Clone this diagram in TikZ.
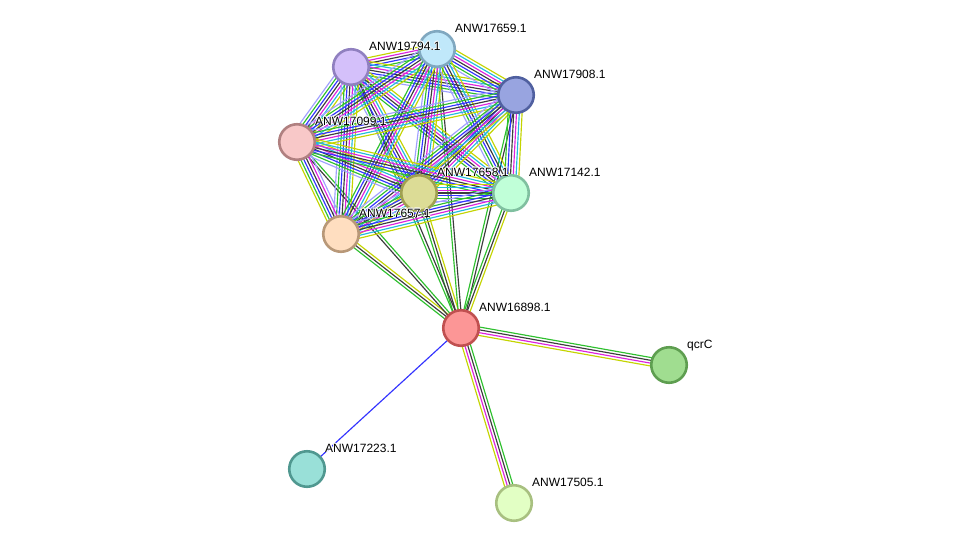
\documentclass[tikz,border=0pt]{standalone}
\usepackage{fontspec}
\setmainfont{Liberation Sans}
\usetikzlibrary{calc}
\pgfdeclarelayer{bg}
\pgfsetlayers{bg,main}

\definecolor{cgreen}{HTML}{2EC02E}
\definecolor{cblue}{HTML}{3333FF}
\definecolor{cblack}{HTML}{3C3C3C}
\definecolor{cmag}{HTML}{DD22DD}
\definecolor{ccyan}{HTML}{22BBDD}
\definecolor{cyel}{HTML}{C4D400}
\definecolor{clblue}{HTML}{A0A0FF}

\tikzset{
  prot/.style={circle, minimum size=35.5pt, inner sep=0pt, line width=2.6pt},
  lab/.style={anchor=base west, inner sep=0pt, font=\fontsize{12}{14}\selectfont, text=black},
  halo/.style={lab, text=white},
  link/.style={line width=1.15pt},
}
\newcommand\lsp{2.8}
% parallel strands of one interaction, one per evidence colour
\newcommand\sedge[3]{%
  \foreach \c [count=\i] in {#3} {\xdef\ncount{\i}}%
  \foreach \c [count=\i] in {#3} {%
    \pgfmathsetmacro\off{(\i-(\ncount+1)/2)*\lsp}%
    \draw[link, \c] ($(#1.center)!\off pt!90:(#2.center)$) -- ($(#2.center)!\off pt!-90:(#1.center)$);
  }%
}

\begin{document}
\begin{tikzpicture}[x=1pt, y=-1pt]
\useasboundingbox (0,0) rectangle (976,549);

% proteins
\node[prot, fill={rgb,255:red,252;green,150;blue,150}, draw={rgb,255:red,192;green,80;blue,80}] (a16898) at (461,328) {};
\node[prot, fill={rgb,255:red,160;green,221;blue,144}, draw={rgb,255:red,94;green,158;blue,80}] (aqcrC) at (669,365) {};
\node[prot, fill={rgb,255:red,153;green,224;blue,216}, draw={rgb,255:red,80;green,152;blue,144}] (a17223) at (307,469) {};
\node[prot, fill={rgb,255:red,226;green,255;blue,196}, draw={rgb,255:red,168;green,192;blue,128}] (a17505) at (514,503) {};
\node[prot, fill={rgb,255:red,255;green,222;blue,192}, draw={rgb,255:red,184;green,152;blue,120}] (a17657) at (341,234) {};
\node[prot, fill={rgb,255:red,220;green,220;blue,150}, draw={rgb,255:red,160;green,160;blue,80}] (a17658) at (419,193) {};
\node[prot, fill={rgb,255:red,192;green,255;blue,216}, draw={rgb,255:red,128;green,192;blue,160}] (a17142) at (511,193) {};
\node[prot, fill={rgb,255:red,248;green,200;blue,200}, draw={rgb,255:red,176;green,128;blue,128}] (a17099) at (297,142) {};
\node[prot, fill={rgb,255:red,212;green,192;blue,250}, draw={rgb,255:red,144;green,128;blue,192}] (a19794) at (351,67) {};
\node[prot, fill={rgb,255:red,192;green,232;blue,250}, draw={rgb,255:red,128;green,168;blue,192}] (a17659) at (437,49) {};
\node[prot, fill={rgb,255:red,152;green,164;blue,224}, draw={rgb,255:red,80;green,96;blue,160}] (a17908) at (516,95) {};

\begin{pgfonlayer}{bg}
\fill[white] (0,0) rectangle (976,549);
% hub interactions
\sedge{a16898}{aqcrC}{cyel,cmag,cblack,cgreen}
\sedge{a17505}{a16898}{cgreen,cblack,cmag,cyel}
\sedge{a16898}{a17223}{cblue}
\sedge{a17657}{a16898}{cgreen,cblack,cyel}
\sedge{a17099}{a16898}{cblack,cgreen}
\sedge{a17658}{a16898}{cgreen,cblack,cyel}
\sedge{a19794}{a16898}{cgreen,cblack}
\sedge{a17659}{a16898}{cgreen,cblack}
\sedge{a17908}{a16898}{cgreen,cblack}
\sedge{a17142}{a16898}{cgreen,cblack,cyel}
% cluster interactions
\sedge{a19794}{a17659}{cgreen,cblue,cblack,cmag,cyel}
\sedge{a19794}{a17908}{clblue,cgreen,cblue,cblack,cmag,ccyan,cyel}
\sedge{a19794}{a17099}{clblue,cgreen,cblue,cblack,cmag,ccyan,cyel}
\sedge{a19794}{a17658}{clblue,cgreen,cblue,cblack,cmag,ccyan,cyel}
\sedge{a19794}{a17142}{cgreen,cblue,cblack,cmag,ccyan,cyel}
\sedge{a19794}{a17657}{clblue,cgreen,cblue,cblack,cmag,ccyan,cyel}
\sedge{a17659}{a17908}{clblue,cgreen,cblue,cblack,cmag,ccyan,cyel}
\sedge{a17659}{a17099}{clblue,cgreen,cblue,cblack,cmag,ccyan,cyel}
\sedge{a17659}{a17658}{clblue,cgreen,cblue,cblack,cmag,ccyan,cyel}
\sedge{a17659}{a17142}{clblue,cgreen,cblue,cblack,ccyan,cyel}
\sedge{a17659}{a17657}{cgreen,cblue,cblack,cmag,ccyan,cyel}
\sedge{a17908}{a17099}{clblue,cgreen,cblue,cblack,cmag,ccyan,cyel}
\sedge{a17908}{a17658}{clblue,cgreen,cblue,cblack,cmag,ccyan,cyel}
\sedge{a17908}{a17142}{cgreen,cblue,cblack,cmag,ccyan,cyel}
\sedge{a17908}{a17657}{clblue,cgreen,cblue,cblack,cmag,ccyan,cyel}
\sedge{a17099}{a17658}{clblue,cgreen,cblue,cblack,cmag,ccyan,cyel}
\sedge{a17099}{a17142}{cgreen,cblue,cblack,cmag,ccyan,cyel}
\sedge{a17099}{a17657}{cyel,cgreen,cblue,cblack,cmag,clblue}
\sedge{a17658}{a17142}{clblue,cgreen,cblue,cblack,cmag,ccyan,cyel}
\sedge{a17658}{a17657}{clblue,cgreen,cblue,cblack,cmag,ccyan,cyel}
\sedge{a17142}{a17657}{clblue,cgreen,cblue,cblack,cmag,ccyan,cyel}
\end{pgfonlayer}

% labels, each with a thin white halo
\foreach \n/\t in {a16898/ANW16898.1, aqcrC/qcrC, a17223/ANW17223.1, a17505/ANW17505.1,
  a17657/ANW17657.1, a17658/ANW17658.1, a17142/ANW17142.1, a17099/ANW17099.1,
  a19794/ANW19794.1, a17659/ANW17659.1, a17908/ANW17908.1} {
  \foreach \dx/\dy in {-0.8/0, 0.8/0, 0/-0.8, 0/0.8, -0.6/-0.6, 0.6/0.6, -0.6/0.6, 0.6/-0.6}
    \node[halo] at ($(\n.center)+(18+\dx,-17+\dy)$) {\t};
  \node[lab] (\n-t) at ($(\n.center)+(18,-17)$) {\t};
}
\end{tikzpicture}
\end{document}
